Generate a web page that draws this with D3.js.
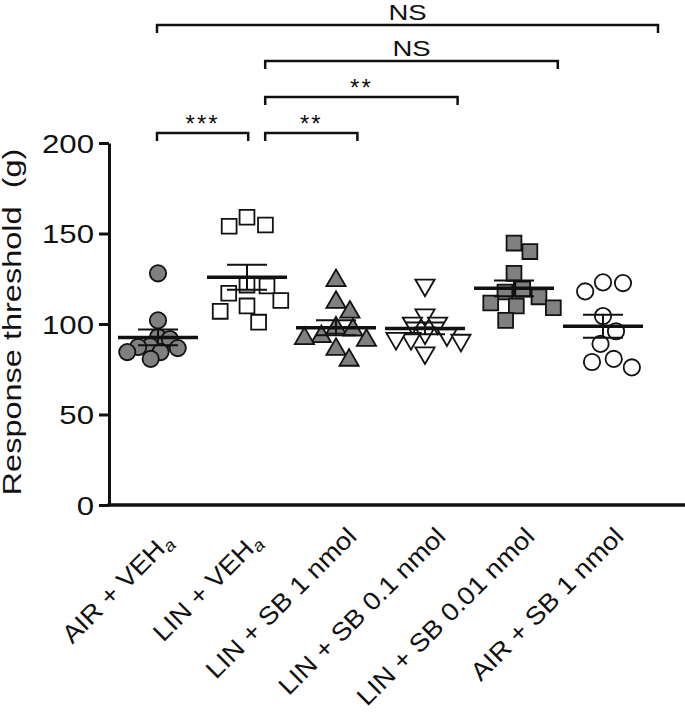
<!DOCTYPE html>
<html><head><meta charset="utf-8">
<script src="https://cdn.jsdelivr.net/npm/d3@7"></script>
<style>
body{margin:0;background:#fff;}
text{font-family:"Liberation Sans",Arial,Helvetica,sans-serif;fill:#111;}
</style></head>
<body><svg id="chart" width="685" height="715"></svg>
<script>
// ---- data ----
const categories = ["AIR + VEH", "LIN + VEH", "LIN + SB 1 nmol", "LIN + SB 0.1 nmol", "LIN + SB 0.01 nmol", "AIR + SB 1 nmol"];
const categorySubscripts = ["a", "a", "", "", "", ""];
const airVeh = [128, 102, 91.7, 92.8, 87.3, 84.5, 80.7, 84.5, 86.7, 87.8];
const linVeh = [159, 154, 154.7, 121, 117, 121.5, 113, 110, 107, 101];
const linSb1 = [124, 112, 106.6, 96.7, 91, 93, 97.8, 92, 86, 80];
const linSb01 = [121.5, 105, 100.5, 100.5, 94, 92, 91, 92, 95, 84];
const linSb001 = [144.7, 140, 128, 117.7, 115, 119.3, 110, 109, 111.6, 102];
const airSb1 = [122.6, 118, 123, 104.4, 96, 89, 80.7, 76, 79];
const seriesValues = [airVeh, linVeh, linSb1, linSb01, linSb001, airSb1];
const yTicks = [0, 50, 100, 150, 200];
const yTitle = "Response threshold  (g)";
const bracketFrom = [0, 1, 1, 1, 0];
const bracketTo = [1, 2, 3, 4, 5];
const bracketLevel = [0, 0, 1, 2, 3];
const bracketLabels = ["***", "**", "**", "NS", "NS"];

// ---- styles ----
const markerShape = [d3.symbolCircle, d3.symbolSquare, d3.symbolTriangle, d3.symbolTriangle, d3.symbolSquare, d3.symbolCircle];
const markerFill = ["#808080", "#fff", "#808080", "#fff", "#808080", "#fff"];
const markerRotate = [0, 0, 0, 180, 0, 0];
const markerSize = [210, 220, 160, 160, 220, 210];
const dodgeDist = [12, 20, 17, 15, 18, 20];

const svg = d3.select("#chart");
const W = 685, H = 715;
const mLeft = 109, mBottom = 505, mTop = 143;

const x = d3.scaleBand().domain(categories).range([113.5, 647.5]).padding(0);
const y = d3.scaleLinear().domain([0, 200]).range([mBottom, mTop]);
const bx = d3.scaleLinear().domain([0, 5]).range([157, 658]);

// ---- points (simple dodge layout) ----
seriesValues.forEach((vals, gi) => {
  const D = dodgeDist[gi];
  const cx = x(categories[gi]) + x.bandwidth() / 2;
  const placed = [];
  const order = vals.map((v, i) => i).sort((a, b) => vals[b] - vals[a]);
  order.forEach(i => {
    const py = y(vals[i]);
    const cands = [0];
    placed.forEach(p => {
      const dy = Math.abs(p.y - py);
      if (dy < D) { const dx = Math.sqrt(D * D - dy * dy); cands.push(p.x + dx + 0.01, p.x - dx - 0.01); }
    });
    cands.sort((a, b) => Math.abs(a) - Math.abs(b) || b - a);
    let chosen = cands[0];
    for (const c of cands) {
      if (placed.every(p => (p.x - c) ** 2 + (p.y - py) ** 2 >= D * D - 0.5)) { chosen = c; break; }
    }
    placed.push({x: chosen, y: py});
  });
  const g = svg.append("g");
  g.selectAll("path").data(placed).join("path")
    .attr("d", d3.symbol(markerShape[gi], markerSize[gi]))
    .attr("transform", p => `translate(${cx + p.x},${p.y}) rotate(${markerRotate[gi]})`)
    .attr("fill", markerFill[gi]).attr("stroke", "#111").attr("stroke-width", 1.8);

  // mean and SEM
  const m = d3.mean(vals);
  const sem = d3.deviation(vals) / Math.sqrt(vals.length);
  g.append("line").attr("x1", cx - 40).attr("x2", cx + 40).attr("y1", y(m)).attr("y2", y(m))
    .attr("stroke", "#111").attr("stroke-width", 3.5);
  g.append("line").attr("x1", cx).attr("x2", cx).attr("y1", y(m + sem)).attr("y2", y(m - sem))
    .attr("stroke", "#111").attr("stroke-width", 2);
  [m + sem, m - sem].forEach(v => {
    g.append("line").attr("x1", cx - 20).attr("x2", cx + 20).attr("y1", y(v)).attr("y2", y(v))
      .attr("stroke", "#111").attr("stroke-width", 2);
  });
});

// ---- y axis ----
const yAxis = svg.append("g").attr("transform", `translate(${mLeft},0)`)
  .call(d3.axisLeft(y).tickValues(yTicks).tickSize(10).tickSizeOuter(0));
yAxis.select(".domain").attr("stroke", "#111").attr("stroke-width", 3);
yAxis.selectAll(".tick line").attr("stroke", "#111").attr("stroke-width", 3);
yAxis.selectAll(".tick text").attr("font-size", 26).attr("x", 0).attr("dy", "0.36em")
  .attr("transform", "translate(-15,0) scale(1.2,1)")
  .style("font-family", "Liberation Sans, Arial, sans-serif").attr("fill", "#111");

svg.append("text").attr("transform", `translate(21,${(mTop + mBottom) / 2 - 2}) rotate(-90) scale(1.3,1)`)
  .attr("text-anchor", "middle").attr("font-size", 25)
  .style("white-space", "pre").text(yTitle);

// ---- x axis ----
svg.append("line").attr("x1", mLeft - 1.5).attr("x2", W).attr("y1", mBottom).attr("y2", mBottom)
  .attr("stroke", "#111").attr("stroke-width", 3.5);
const xAxis = svg.append("g").attr("transform", `translate(0,${mBottom})`)
  .call(d3.axisBottom(x).tickSize(0));
xAxis.select(".domain").remove();
xAxis.selectAll(".tick text").each(function(d, i) {
  const t = d3.select(this);
  t.text(null).attr("y", null).attr("dy", null)
    .attr("text-anchor", "end").attr("font-size", 25)
    .style("font-family", "Liberation Sans, Arial, sans-serif").attr("fill", "#111")
    .attr("transform", `translate(${categorySubscripts[i] ? 16 : 22},${categorySubscripts[i] ? 38 : 33}) rotate(-45) scale(1.1,1)`);
  t.append("tspan").text(d);
  if (categorySubscripts[i]) {
    t.append("tspan").text(categorySubscripts[i]).attr("font-size", 17)
      .attr("font-style", "italic").attr("dy", "0.25em");
  }
});

// ---- significance brackets ----
bracketFrom.forEach((f, i) => {
  const x1 = bx(f) + (f === 1 ? 8 : 0);
  const x2 = bx(bracketTo[i]) - (bracketTo[i] === 1 ? 9 : 0);
  const yy = 133 - bracketLevel[i] * 36;
  svg.append("path").attr("d", `M${x1},${yy + 8}V${yy}H${x2}V${yy + 8}`)
    .attr("fill", "none").attr("stroke", "#111").attr("stroke-width", 2.5);
  const isNS = bracketLabels[i] === "NS";
  svg.append("text")
    .attr("transform", `translate(${(x1 + x2) / 2},${isNS ? yy - 5 : yy - 1}) scale(${isNS ? 1.25 : 1},1)`)
    .attr("text-anchor", "middle").attr("font-size", isNS ? 22 : 24)
    .attr("letter-spacing", isNS ? 0 : 2).text(bracketLabels[i]);
});
</script></body></html>
